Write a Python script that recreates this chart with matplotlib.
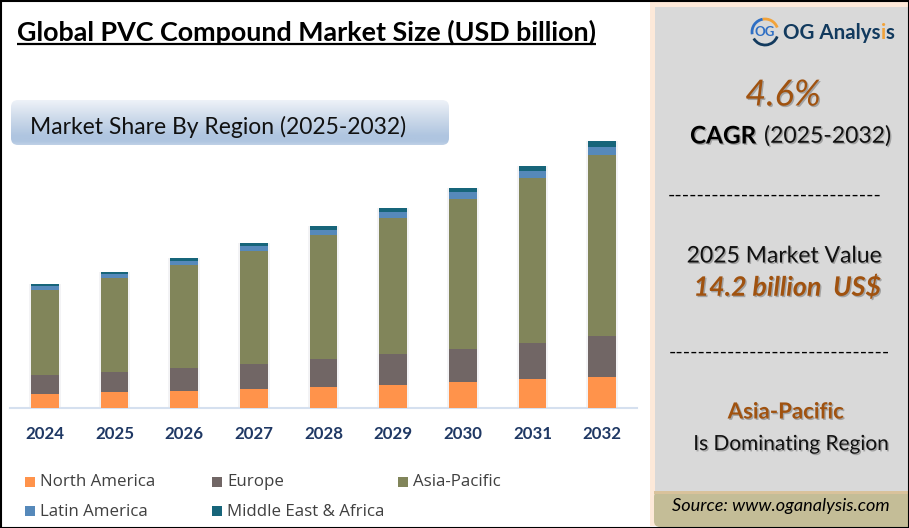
import numpy as np
import matplotlib
matplotlib.use('Agg')
import matplotlib.pyplot as plt
from matplotlib.patches import Rectangle, FancyBboxPatch, Arc
import matplotlib.patheffects as pe

years = ['2024', '2025', '2026', '2027', '2028', '2029', '2030', '2031', '2032']
north_america = [1.46, 1.67, 1.77, 1.98, 2.19, 2.40, 2.71, 3.03, 3.24]
europe = [1.98, 2.09, 2.40, 2.61, 2.92, 3.24, 3.45, 3.76, 4.28]
asia_pacific = [8.87, 9.85, 10.75, 11.80, 12.95, 14.20, 15.66, 17.23, 18.90]
latin_america = [0.42, 0.39, 0.42, 0.52, 0.52, 0.63, 0.73, 0.73, 0.84]
middle_east = [0.21, 0.21, 0.31, 0.31, 0.42, 0.42, 0.42, 0.52, 0.63]

series_names = ['North America', 'Europe', 'Asia-Pacific', 'Latin America', 'Middle East & Africa']
series_values = [north_america, europe, asia_pacific, latin_america, middle_east]
series_colors = ['#ff934b', '#716665', '#81855a', '#5689ba', '#17657a']

W, H = 909, 528
fig = plt.figure(figsize=(W / 100, H / 100), dpi=100, facecolor='white')

# overlay in pixel coords for the decoration
bg = fig.add_axes([0, 0, 1, 1])
bg.set_xlim(0, W)
bg.set_ylim(H, 0)
bg.axis('off')


def shadow():
    return [pe.SimplePatchShadow(offset=(1, -1), alpha=0.25, shadow_rgbFace='#000000'), pe.Normal()]


# side panel
bg.add_patch(Rectangle((650, 2), 259, 524, fc='#fde9d9', ec='none'))
bg.add_patch(Rectangle((655, 7), 254, 485, fc='#d9d9d9', ec='none'))
bg.add_patch(FancyBboxPatch((654, 491), 290, 36, boxstyle='round,pad=0,rounding_size=6', fc='#c4bd97', ec='none'))
bg.add_patch(Rectangle((654, 491), 255, 3, fc='#d9c29b', ec='none'))

# outer frame
bg.add_patch(Rectangle((0.5, 0.5), W - 1, H - 1, fc='none', ec='black', lw=1.5))

# title
bg.text(17, 32, 'Global PVC Compound Market Size (USD billion)', family='Lato', weight='bold',
        fontsize=19.4, color='black', va='center', ha='left')
bg.plot([17, 596], [43.5, 43.5], color='black', lw=1.6, solid_capstyle='butt')

# banner with a vertical gradient
stops = np.array([[238, 242, 248], [205, 218, 234], [175, 197, 224], [175, 197, 224], [190, 208, 230]]) / 255
grad = np.array([np.interp(np.linspace(0, 1, 64), [0, 0.4, 0.8, 0.92, 1], stops[:, i]) for i in range(3)]).T
im = bg.imshow(grad[:, None, :], extent=(11, 449, 145, 100), aspect='auto', zorder=1)
banner = FancyBboxPatch((11, 100), 438, 45, boxstyle='round,pad=0,rounding_size=7', fc='none', ec='none',
                        transform=bg.transData)
bg.add_patch(banner)
im.set_clip_path(banner)
bg.set_xlim(0, W)
bg.set_ylim(H, 0)
bg.text(30, 127, 'Market Share By Region (2025-2032)', family='Lato', fontsize=16.5, color='#111111',
        va='center', ha='left', zorder=2)

# stacked bars
ax = fig.add_axes([10 / W, (H - 408) / H, 627 / W, 279 / H])
ax.patch.set_alpha(0)
x = np.arange(len(years))
bottom = np.zeros(len(years))
for vals, col in zip(series_values, series_colors):
    ax.bar(x, vals, 0.4, bottom=bottom, color=col, zorder=3)
    bottom += np.array(vals)
# soft shadow round the columns
ax.bar(x, bottom, 0.45, color='#8a8fa0', alpha=0.1, zorder=2)
ax.set_xlim(-0.5, len(years) - 0.5)
ax.set_ylim(0, 279 * 14.2 / 136)
ax.set_yticks([])
ax.set_xticks(x)
ax.set_xticklabels(years, family='Lato', weight='bold', fontsize=12.2, color='#1f3864')
ax.tick_params(axis='x', length=0, pad=13)
for s in ['top', 'left', 'right']:
    ax.spines[s].set_visible(False)
ax.spines['bottom'].set_color('#d5e0ef')
ax.spines['bottom'].set_linewidth(1.5)

# legend, laid out by hand since the columns are unevenly spaced
legend_pos = [(25, 482), (212, 482), (398, 482), (25, 511), (212, 511)]
for name, col, (lx, ly) in zip(series_names, series_colors, legend_pos):
    bg.add_patch(Rectangle((lx, ly - 5), 10, 10, fc=col, ec='none'))
    bg.text(lx + 15, ly + 0.5, name, family='Open Sans', fontsize=12.2, color='#404040', va='center', ha='left')

# logo, y axis is inverted here so the arc angles run clockwise on screen
cx, cy, r = 765, 32, 13
bg.add_patch(Arc((cx, cy), 2 * r, 2 * r, theta1=170, theta2=260, color='#2f6fc4', lw=2))
bg.add_patch(Arc((cx, cy), 2 * r, 2 * r, theta1=260, theta2=340, color='#f2a33a', lw=2))
bg.add_patch(Arc((cx, cy), 2 * r, 2 * r, theta1=20, theta2=150, color='#123a5e', lw=2))
bg.text(cx, cy, 'OG', family='Lato', weight='bold', fontsize=9.5, color='#2f6fc4', va='center', ha='center')
t1 = bg.text(783, 33, 'OG Analys', family='Lato', weight='bold', fontsize=14.8, color='#123a5e',
             va='center', ha='left')
t2 = bg.annotate('i', xy=(1, 0), xycoords=t1, family='Lato', weight='bold', fontsize=14.8, color='#f2a33a',
                 va='bottom', ha='left')
bg.annotate('s', xy=(1, 0), xycoords=t2, family='Lato', weight='bold', fontsize=14.8, color='#123a5e',
            va='bottom', ha='left')

# panel text
brown = '#a0520f'
bg.text(783, 95, '4.6%', family='Lato', style='italic', fontsize=26, color=brown, va='center', ha='center',
        path_effects=shadow())
bg.text(690, 136, 'CAGR', family='Lato', weight='bold', fontsize=17.5, color='black', va='center', ha='left',
        path_effects=shadow())
bg.text(764, 136, '(2025-2032)', family='Lato', fontsize=16.5, color='#111111', va='center', ha='left',
        path_effects=shadow())
bg.text(775, 195, '-' * 29, family='Lato', fontsize=14, color='black', va='center', ha='center')
bg.text(784, 256, '2025 Market Value', family='Lato', fontsize=16.5, color='#111111', va='center', ha='center',
        path_effects=shadow())
bg.text(787, 287, '14.2 billion  US$', family='Lato', style='italic', weight='bold', fontsize=19.3, color=brown,
        va='center', ha='center', path_effects=shadow())
bg.text(779, 352, '-' * 30, family='Lato', fontsize=14, color='black', va='center', ha='center')
bg.text(786, 412, 'Asia-Pacific', family='Lato', weight='bold', fontsize=16, color=brown, va='center', ha='center',
        path_effects=shadow())
bg.text(791, 444, 'Is Dominating Region', family='Lato', fontsize=15, color='#111111', va='center', ha='center',
        path_effects=shadow())
bg.text(780.5, 506, 'Source: www.oganalysis.com', family='Lato', style='italic', fontsize=13.1, color='black',
        va='center', ha='center')

fig.savefig('out.png', dpi=100)
